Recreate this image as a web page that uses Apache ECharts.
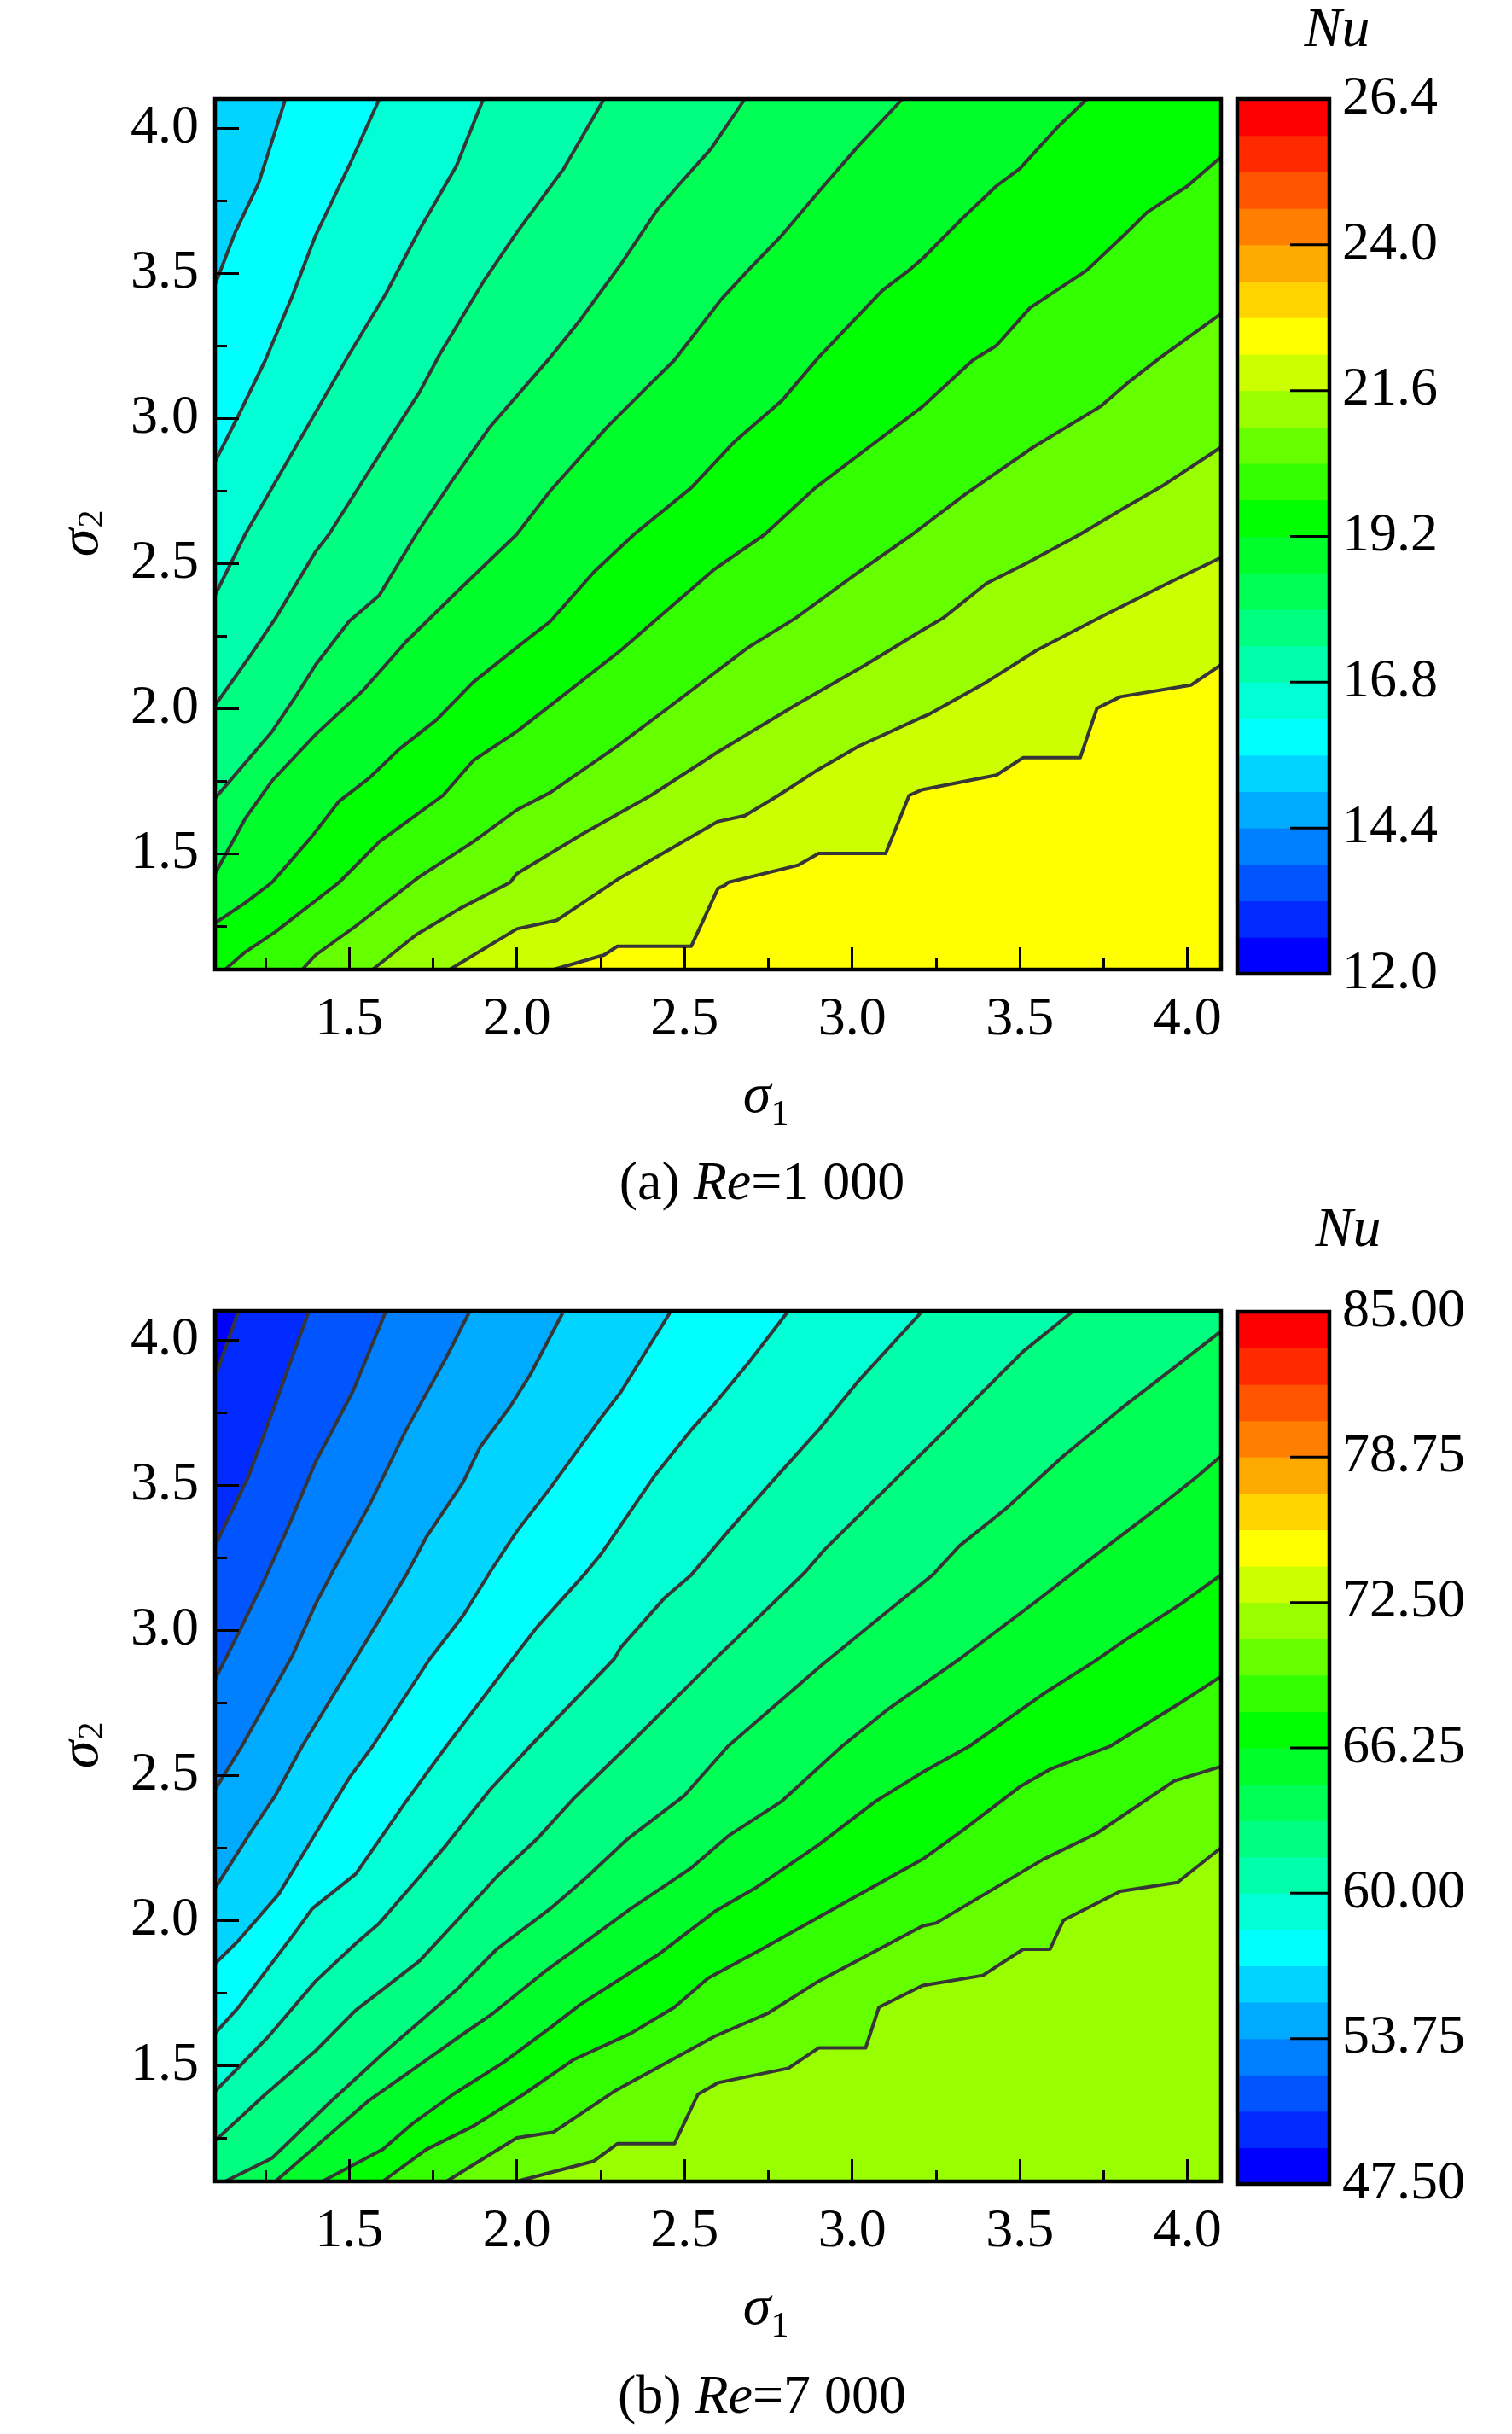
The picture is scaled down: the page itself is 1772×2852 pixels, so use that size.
<!DOCTYPE html>
<html><head><meta charset="utf-8">
<script src="https://cdn.jsdelivr.net/npm/echarts@6/dist/echarts.min.js"></script>
<style>html,body{margin:0;padding:0;background:#fff}#c{width:1772px;height:2852px}</style>
</head><body><div id="c"></div>
<script>
// ---------------- data ----------------
const sigmaMin = 1.1, sigmaMax = 4.1;
const majorTicks = [1.5, 2.0, 2.5, 3.0, 3.5, 4.0];
const minorTicks = [1.25, 1.75, 2.25, 2.75, 3.25, 3.75];
const bandColors = ['#0000ff','#002aff','#0055ff','#0080ff','#00aaff','#00d4ff','#00ffff','#00ffd4',
  '#00ffaa','#00ff80','#00ff55','#00ff2a','#00ff00','#33ff00','#66ff00','#99ff00','#ccff00','#ffff00',
  '#ffd400','#ffaa00','#ff8000','#ff5500','#ff2a00','#ff0000'];
const cbarTicksA = [12.0, 14.4, 16.8, 19.2, 21.6, 24.0, 26.4];
const cbarTicksB = [47.5, 53.75, 60.0, 66.25, 72.5, 78.75, 85.0];
// contour levels (Nu) of each drawn isoline
const levelsA = [15.6, 16.2, 16.8, 17.4, 18.0, 18.6, 19.2, 19.8, 20.4, 21.0, 21.6, 22.2];
const levelsB = [49.0625, 50.625, 52.1875, 53.75, 55.3125, 56.875, 58.4375, 60.0, 61.5625, 63.125,
  64.6875, 66.25, 67.8125, 69.375, 70.9375];
// isolines, points [sigma1, sigma2]
const contoursA = [
  [[1.31,4.10],[1.23,3.81],[1.16,3.64],[1.10,3.46]],
  [[1.59,4.10],[1.50,3.87],[1.40,3.63],[1.33,3.42],[1.25,3.20],[1.17,3.01],[1.10,2.85]],
  [[1.90,4.10],[1.82,3.87],[1.71,3.65],[1.61,3.43],[1.50,3.22],[1.40,3.02],[1.35,2.92],[1.19,2.60],[1.10,2.39]],
  [[2.26,4.10],[2.14,3.86],[2.00,3.64],[1.90,3.47],[1.77,3.22],[1.71,3.09],[1.61,2.91],[1.44,2.60],[1.40,2.54],[1.28,2.31],[1.21,2.19],[1.10,2.01]],
  [[2.68,4.10],[2.58,3.93],[2.48,3.80],[2.42,3.72],[2.31,3.53],[2.19,3.34],[2.10,3.21],[1.92,2.97],[1.81,2.79],[1.70,2.60],[1.59,2.39],[1.50,2.30],[1.40,2.15],[1.34,2.04],[1.27,1.92],[1.10,1.69]],
  [[3.15,4.10],[3.02,3.94],[2.90,3.78],[2.79,3.63],[2.69,3.51],[2.61,3.41],[2.47,3.20],[2.40,3.12],[2.27,2.97],[2.10,2.75],[2.00,2.60],[1.82,2.40],[1.67,2.23],[1.54,2.06],[1.40,1.91],[1.27,1.75],[1.19,1.62],[1.10,1.43]],
  [[3.70,4.10],[3.61,4.00],[3.50,3.86],[3.43,3.80],[3.33,3.69],[3.21,3.55],[3.17,3.51],[3.09,3.44],[2.90,3.21],[2.79,3.06],[2.65,2.92],[2.52,2.76],[2.35,2.60],[2.23,2.47],[2.10,2.30],[2.00,2.21],[1.87,2.09],[1.76,1.96],[1.65,1.86],[1.56,1.76],[1.47,1.68],[1.39,1.56],[1.27,1.40],[1.19,1.33],[1.10,1.26]],
  [[4.10,3.90],[4.00,3.80],[3.88,3.71],[3.81,3.63],[3.70,3.51],[3.53,3.38],[3.43,3.25],[3.36,3.20],[3.21,3.04],[3.05,2.90],[2.89,2.76],[2.74,2.60],[2.59,2.48],[2.42,2.31],[2.31,2.20],[2.10,2.01],[2.00,1.92],[1.87,1.82],[1.78,1.70],[1.59,1.54],[1.47,1.40],[1.28,1.23],[1.19,1.16],[1.13,1.10]],
  [[4.10,3.36],[3.92,3.21],[3.82,3.12],[3.74,3.04],[3.54,2.90],[3.34,2.74],[3.18,2.60],[3.02,2.47],[2.83,2.31],[2.69,2.21],[2.45,2.00],[2.30,1.87],[2.10,1.71],[2.00,1.65],[1.87,1.54],[1.71,1.42],[1.52,1.25],[1.40,1.15],[1.36,1.10]],
  [[4.10,2.90],[3.93,2.77],[3.81,2.69],[3.68,2.60],[3.52,2.50],[3.40,2.43],[3.27,2.31],[3.21,2.27],[3.04,2.15],[2.83,2.01],[2.60,1.85],[2.40,1.70],[2.20,1.57],[2.00,1.43],[1.98,1.40],[1.83,1.31],[1.70,1.22],[1.57,1.10]],
  [[4.10,2.52],[3.94,2.43],[3.75,2.32],[3.55,2.20],[3.40,2.09],[3.23,1.98],[3.21,1.97],[3.02,1.87],[2.90,1.79],[2.78,1.70],[2.68,1.63],[2.60,1.61],[2.48,1.53],[2.30,1.41],[2.12,1.27],[2.00,1.24],[1.80,1.10]],
  [[4.10,2.15],[4.01,2.08],[3.80,2.04],[3.73,2.00],[3.68,1.83],[3.51,1.83],[3.43,1.77],[3.21,1.72],[3.17,1.70],[3.10,1.50],[2.90,1.50],[2.84,1.46],[2.63,1.40],[2.62,1.39],[2.60,1.38],[2.52,1.18],[2.30,1.18],[2.26,1.15],[2.11,1.10]]
];
const contoursB = [
  [[1.17,4.10],[1.14,4.00],[1.10,3.87]],
  [[1.38,4.10],[1.28,3.78],[1.20,3.53],[1.10,3.29]],
  [[1.61,4.10],[1.51,3.82],[1.40,3.58],[1.32,3.36],[1.25,3.18],[1.17,2.99],[1.10,2.83]],
  [[1.86,4.10],[1.79,3.94],[1.67,3.69],[1.56,3.43],[1.45,3.20],[1.40,3.09],[1.33,2.91],[1.18,2.60],[1.10,2.45]],
  [[2.14,4.10],[2.04,3.88],[1.98,3.77],[1.89,3.63],[1.84,3.51],[1.73,3.32],[1.67,3.19],[1.55,2.96],[1.36,2.60],[1.28,2.43],[1.21,2.31],[1.10,2.11]],
  [[2.46,4.10],[2.31,3.82],[2.25,3.73],[2.10,3.49],[2.00,3.34],[1.92,3.20],[1.84,3.05],[1.74,2.90],[1.57,2.60],[1.50,2.49],[1.39,2.28],[1.29,2.09],[1.17,1.93],[1.10,1.85]],
  [[2.81,4.10],[2.69,3.92],[2.59,3.78],[2.52,3.69],[2.41,3.53],[2.25,3.26],[2.20,3.19],[2.06,3.01],[2.00,2.92],[1.79,2.60],[1.67,2.41],[1.52,2.16],[1.39,2.04],[1.34,1.96],[1.17,1.70],[1.10,1.61]],
  [[3.21,4.10],[3.02,3.86],[2.90,3.69],[2.76,3.51],[2.63,3.34],[2.52,3.19],[2.44,3.11],[2.31,2.94],[2.29,2.90],[2.04,2.60],[1.92,2.45],[1.79,2.26],[1.71,2.15],[1.59,1.99],[1.52,1.92],[1.40,1.79],[1.26,1.60],[1.10,1.41]],
  [[3.66,4.10],[3.51,3.96],[3.38,3.81],[3.27,3.68],[3.13,3.52],[2.92,3.28],[2.86,3.20],[2.69,3.01],[2.60,2.91],[2.33,2.60],[2.17,2.42],[2.06,2.28],[1.94,2.15],[1.83,2.01],[1.71,1.86],[1.61,1.77],[1.52,1.69],[1.40,1.55],[1.25,1.40],[1.10,1.24]],
  [[4.10,4.03],[4.00,3.94],[3.82,3.78],[3.63,3.60],[3.46,3.42],[3.32,3.29],[3.24,3.19],[3.09,3.05],[2.91,2.88],[2.63,2.60],[2.50,2.43],[2.33,2.28],[2.21,2.15],[2.10,2.04],[1.94,1.90],[1.82,1.76],[1.73,1.67],[1.61,1.55],[1.44,1.37],[1.27,1.18],[1.13,1.10]],
  [[4.10,3.60],[4.03,3.53],[3.91,3.42],[3.75,3.28],[3.65,3.19],[3.55,3.10],[3.32,2.90],[3.11,2.73],[2.97,2.60],[2.79,2.41],[2.63,2.29],[2.52,2.18],[2.34,2.04],[2.21,1.93],[2.08,1.82],[1.93,1.68],[1.83,1.60],[1.72,1.51],[1.56,1.38],[1.42,1.24],[1.28,1.10]],
  [[4.10,3.19],[3.98,3.09],[3.82,2.97],[3.72,2.89],[3.57,2.78],[3.35,2.60],[3.21,2.51],[3.07,2.41],[2.90,2.26],[2.71,2.11],[2.59,2.03],[2.42,1.88],[2.19,1.71],[2.10,1.63],[1.96,1.51],[1.81,1.40],[1.69,1.30],[1.60,1.21],[1.42,1.10]],
  [[4.10,2.84],[3.98,2.75],[3.77,2.60],[3.59,2.52],[3.50,2.46],[3.33,2.31],[3.21,2.21],[2.90,2.01],[2.73,1.90],[2.57,1.80],[2.47,1.70],[2.34,1.61],[2.17,1.52],[2.02,1.40],[1.87,1.29],[1.73,1.21],[1.60,1.10]],
  [[4.10,2.53],[3.96,2.48],[3.73,2.30],[3.57,2.21],[3.25,1.99],[3.21,1.98],[2.90,1.79],[2.75,1.68],[2.59,1.60],[2.48,1.53],[2.29,1.41],[2.11,1.27],[2.00,1.25],[1.79,1.10]],
  [[4.10,2.25],[3.97,2.13],[3.80,2.10],[3.63,2.00],[3.59,1.90],[3.51,1.90],[3.39,1.81],[3.21,1.775],[3.08,1.70],[3.04,1.56],[2.90,1.56],[2.81,1.49],[2.60,1.44],[2.54,1.40],[2.47,1.23],[2.30,1.23],[2.23,1.17],[2.00,1.10]]
];

// ---------------- helpers ----------------
const FONT = "'Liberation Serif','Times New Roman',serif";
const LABEL_SIZE = 64;
const CORNERS = [[sigmaMin,sigmaMax],[sigmaMin,sigmaMin],[sigmaMax,sigmaMin],[sigmaMax,sigmaMax]];
function edgeParam(p){
  const w = sigmaMax - sigmaMin, eps = 1e-6, x = p[0], y = p[1];
  if (Math.abs(x - sigmaMin) < eps) return (sigmaMax - y) / w;
  if (Math.abs(y - sigmaMin) < eps) return 1 + (x - sigmaMin) / w;
  if (Math.abs(x - sigmaMax) < eps) return 2 + (y - sigmaMin) / w;
  return 3 + (sigmaMax - x) / w;
}
function regionPolygon(line){
  const ts = edgeParam(line[0]), te = edgeParam(line[line.length - 1]);
  let end = ts; if (end <= te) end += 4;
  const pts = line.slice();
  for (let c = Math.ceil(te + 1e-9); c < end; c++) pts.push(CORNERS[c % 4]);
  return pts;
}
function colorOf(v, ticks){
  const mn = ticks[0], mx = ticks[ticks.length - 1], step = (mx - mn) / bandColors.length;
  let k = Math.floor((v - mn) / step);
  k = Math.max(0, Math.min(bandColors.length - 1, k));
  return bandColors[k];
}

const xAxes = [], yAxes = [], series = [];
const grids = [
  {left: 252, top: 116, width: 1179, height: 1020},
  {left: 252, top: 1536, width: 1179, height: 1020},
  {left: 1450, top: 116, width: 108, height: 1025},
  {left: 1450, top: 1537, width: 108, height: 1022}
];

function plotAxes(g){
  const base = {gridIndex: g, type: 'value', min: sigmaMin, max: sigmaMax, z: 10,
    splitLine: {show: false}, axisLine: {show: false, onZero: false}};
  const lbl = {show: true, customValues: majorTicks, formatter: v => v.toFixed(1),
    fontSize: LABEL_SIZE, fontFamily: FONT, color: '#000'};
  xAxes.push(Object.assign({}, base, {position: 'bottom',
    axisTick: {show: true, inside: true, length: 26, customValues: majorTicks, lineStyle: {color: '#000', width: 3}},
    axisLabel: Object.assign({}, lbl, {margin: 27})}));
  xAxes.push(Object.assign({}, base, {position: 'bottom',
    axisTick: {show: true, inside: true, length: 13, customValues: minorTicks, lineStyle: {color: '#000', width: 3}},
    axisLabel: {show: false}}));
  yAxes.push(Object.assign({}, base, {position: 'left',
    axisTick: {show: true, inside: true, length: 28, customValues: majorTicks, lineStyle: {color: '#000', width: 3}},
    axisLabel: Object.assign({}, lbl, {margin: 19})}));
  yAxes.push(Object.assign({}, base, {position: 'left',
    axisTick: {show: true, inside: true, length: 14, customValues: minorTicks, lineStyle: {color: '#000', width: 3}},
    axisLabel: {show: false}}));
}

function plotSeries(g, contours, levels, ticks){
  const ai = 2 * g;
  const step = (ticks[ticks.length - 1] - ticks[0]) / bandColors.length;
  const fillData = [[sigmaMin, sigmaMin, -1]].concat(contours.map((c, k) => [sigmaMin, sigmaMin, k]));
  series.push({
    type: 'custom', xAxisIndex: ai, yAxisIndex: ai, z: 1, silent: true, animation: false, clip: true,
    data: fillData, encode: {x: 0, y: 1},
    renderItem: function(params, api){
      const k = api.value(2);
      let pts, color;
      if (k < 0) { pts = CORNERS; color = colorOf(levels[0] - step / 2, ticks); }
      else { pts = regionPolygon(contours[k]); color = colorOf(levels[k] + step / 2, ticks); }
      return {type: 'polygon', shape: {points: pts.map(p => api.coord(p))}, style: {fill: color, stroke: null}};
    }
  });
  contours.forEach((c, k) => {
    series.push({type: 'line', name: 'Nu=' + levels[k], xAxisIndex: ai, yAxisIndex: ai, z: 3, silent: true,
      animation: false, clip: true, symbol: 'none', smooth: false, data: c,
      lineStyle: {color: '#363636', width: 4, join: 'round'}});
  });
  series.push({
    type: 'custom', xAxisIndex: ai, yAxisIndex: ai, z: 6, silent: true, animation: false, clip: false,
    data: [[sigmaMin, sigmaMin]], encode: {x: 0, y: 1},
    renderItem: function(params, api){
      return {type: 'polygon', shape: {points: CORNERS.map(p => api.coord(p))},
        style: {fill: 'none', stroke: '#000', lineWidth: 4.5}};
    }
  });
}

function colorbar(g, ticks, digits){
  const ai = xAxes.length;
  const mn = ticks[0], mx = ticks[ticks.length - 1], step = (mx - mn) / bandColors.length;
  const inner = ticks.slice(1, -1);
  xAxes.push({gridIndex: g, type: 'value', min: 0, max: 1, show: false});
  yAxes.push({gridIndex: g, type: 'value', min: mn, max: mx, position: 'right', z: 10,
    splitLine: {show: false}, axisLine: {show: false}, axisTick: {show: false},
    axisLabel: {show: true, customValues: ticks, formatter: v => v.toFixed(digits), margin: 15,
      fontSize: LABEL_SIZE, fontFamily: FONT, color: '#000'}});
  series.push({
    type: 'custom', xAxisIndex: ai, yAxisIndex: ai, z: 1, silent: true, animation: false,
    data: bandColors.map((c, k) => [0.5, mn + (k + 0.5) * step, k]), encode: {x: 0, y: 1},
    renderItem: function(params, api){
      const k = api.value(2);
      const lo = mn + k * step, hi = lo + step;
      const p1 = api.coord([0, hi]), p2 = api.coord([1, lo]);
      return {type: 'rect', shape: {x: p1[0], y: p1[1] - 0.5, width: p2[0] - p1[0], height: p2[1] - p1[1] + 1},
        style: {fill: bandColors[k], stroke: null}};
    }
  });
  series.push({
    type: 'custom', xAxisIndex: ai, yAxisIndex: ai, z: 6, silent: true, animation: false,
    data: [[0, mn]], encode: {x: 0, y: 1},
    renderItem: function(params, api){
      const p1 = api.coord([0, mx]), p2 = api.coord([1, mn]);
      const children = [{type: 'rect', shape: {x: p1[0], y: p1[1], width: p2[0] - p1[0], height: p2[1] - p1[1]},
        style: {fill: 'none', stroke: '#000', lineWidth: 4.5}}];
      inner.forEach(t => {
        const p = api.coord([1, t]);
        children.push({type: 'line', shape: {x1: p[0] - 46, y1: p[1], x2: p[0], y2: p[1]},
          style: {stroke: '#000', lineWidth: 3}});
      });
      return {type: 'group', children: children};
    }
  });
}

plotAxes(0); plotAxes(1);
plotSeries(0, contoursA, levelsA, cbarTicksA);
plotSeries(1, contoursB, levelsB, cbarTicksB);
colorbar(2, cbarTicksA, 1);
colorbar(3, cbarTicksB, 2);

function txt(x, y, text, size, italic, extra){
  return Object.assign({type: 'text', x: x, y: y, silent: true, z: 20,
    style: {text: text, fontSize: size, fontFamily: FONT, fontStyle: italic ? 'italic' : 'normal', fill: '#000',
      align: 'center', verticalAlign: 'middle', textAlign: 'center', textVerticalAlign: 'middle'}}, extra || {});
}
function sigmaY(x, y){
  return {type: 'group', x: x, y: y, rotation: Math.PI / 2, children: [
    txt(0, 0, 'σ', 66, true), txt(28, 12, '2', 42, false)]};
}
function caption(x, y, letter, re){
  const rich = {n: {fontSize: 64, fontFamily: FONT, fill: '#000', color: '#000'},
    i: {fontSize: 64, fontFamily: FONT, fontStyle: 'italic', fill: '#000', color: '#000'}};
  return {type: 'text', x: x, y: y, silent: true, z: 20,
    style: {text: '{n|(' + letter + ') }{i|Re}{n|=' + re + '}', rich: rich, fontSize: 64, fontFamily: FONT, fill: '#000',
      align: 'center', verticalAlign: 'middle', textAlign: 'center', textVerticalAlign: 'middle'}};
}
const graphics = [];
[0, 1].forEach(i => {
  const dy = i * 1420;
  graphics.push(txt(887, 1286 + dy, 'σ', 66, true));
  graphics.push(txt(914, 1307 + dy, '1', 42, false));
  graphics.push(sigmaY(97, 636 + dy));
});
graphics.push(caption(893, 1388, 'a', '1 000'));
graphics.push(caption(893, 2810, 'b', '7 000'));
graphics.push(txt(1567, 37, 'Nu', 66, true));
graphics.push(txt(1580, 1443, 'Nu', 66, true));

const chart = echarts.init(document.getElementById('c'), null, {renderer: 'canvas'});
chart.setOption({
  backgroundColor: '#fff',
  animation: false,
  grid: grids,
  xAxis: xAxes,
  yAxis: yAxes,
  series: series,
  graphic: graphics
});
</script></body></html>
